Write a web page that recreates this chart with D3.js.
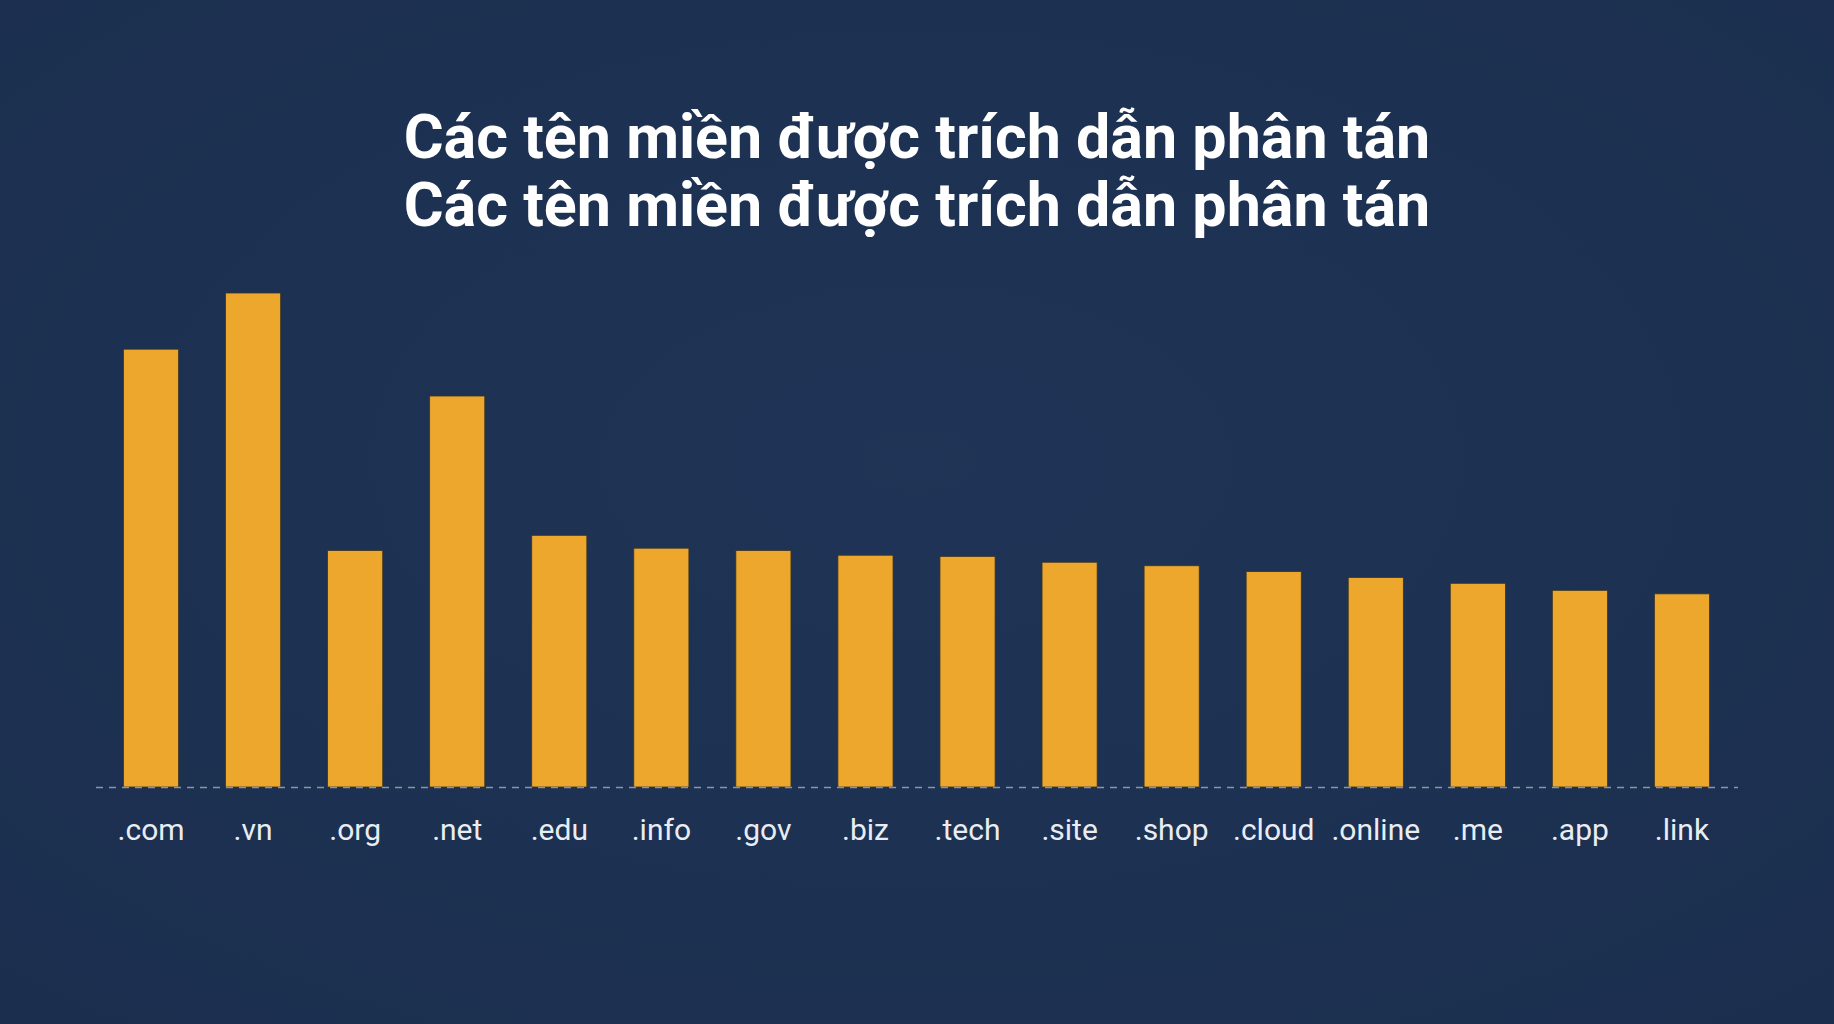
<!DOCTYPE html>
<html>
<head>
<meta charset="utf-8">
<script src="https://cdn.jsdelivr.net/npm/d3@7"></script>
<style>
  html, body { margin: 0; padding: 0; background: #1d3152; }
  svg { display: block; }
</style>
</head>
<body>
<svg id="chart" width="1834" height="1024"></svg>
<script>
const titleLines = ["Các tên miền được trích dẫn phân tán", "Các tên miền được trích dẫn phân tán"];
const categories = [".com", ".vn", ".org", ".net", ".edu", ".info", ".gov", ".biz", ".tech", ".site", ".shop", ".cloud", ".online", ".me", ".app", ".link"];
const values = [37.4, 42.2, 20.2, 33.4, 21.5, 20.4, 20.2, 19.8, 19.7, 19.2, 18.9, 18.4, 17.9, 17.4, 16.8, 16.5];

const W = 1834, H = 1024;
const svg = d3.select("#chart");

// background with subtle gradient
const defs = svg.append("defs");
const grad = defs.append("radialGradient").attr("id", "bg").attr("cx", "50%").attr("cy", "45%").attr("r", "75%");
grad.append("stop").attr("offset", "0%").attr("stop-color", "#1f3456");
grad.append("stop").attr("offset", "100%").attr("stop-color", "#1b2e4e");
svg.append("rect").attr("width", W).attr("height", H).attr("fill", "url(#bg)");

// title
svg.append("g").selectAll("text").data(titleLines).join("text")
  .attr("x", W / 2)
  .attr("y", (d, i) => 158 + i * 68)
  .attr("text-anchor", "middle")
  .attr("fill", "#ffffff")
  .attr("font-family", "Roboto, 'Noto Sans', sans-serif")
  .attr("font-weight", 700)
  .attr("font-size", 61)
  .text(d => d);

const baseY = 787;
const x = d3.scaleBand().domain(categories).range([100, 1733]).paddingInner(0.46).paddingOuter(0.23);
const y = d3.scaleLinear().domain([0, d3.max(values)]).range([baseY, 293]);

// bars
svg.append("g").selectAll("rect").data(categories).join("rect")
  .attr("x", d => x(d))
  .attr("width", x.bandwidth())
  .attr("y", (d, i) => y(values[i]))
  .attr("height", (d, i) => baseY - y(values[i]))
  .attr("fill", "#eca72c")
  .attr("stroke", "#3b3624")
  .attr("stroke-width", 0.8);

// dashed baseline
svg.append("line")
  .attr("x1", 96).attr("x2", 1738)
  .attr("y1", baseY + 0.5).attr("y2", baseY + 0.5)
  .attr("stroke", "#8b95a6")
  .attr("stroke-width", 1.5)
  .attr("stroke-dasharray", "7,6");

// x axis labels
const axis = d3.axisBottom(x).tickSize(0).tickPadding(0);
const gAxis = svg.append("g").attr("transform", `translate(0, ${baseY})`).call(axis);
gAxis.select(".domain").remove();
gAxis.selectAll("text")
  .attr("dy", 0)
  .attr("y", 53)
  .attr("fill", "#e9edf3")
  .attr("font-family", "Roboto, 'Noto Sans', sans-serif")
  .attr("font-size", 30)
  .attr("font-weight", 400);
</script>
</body>
</html>
